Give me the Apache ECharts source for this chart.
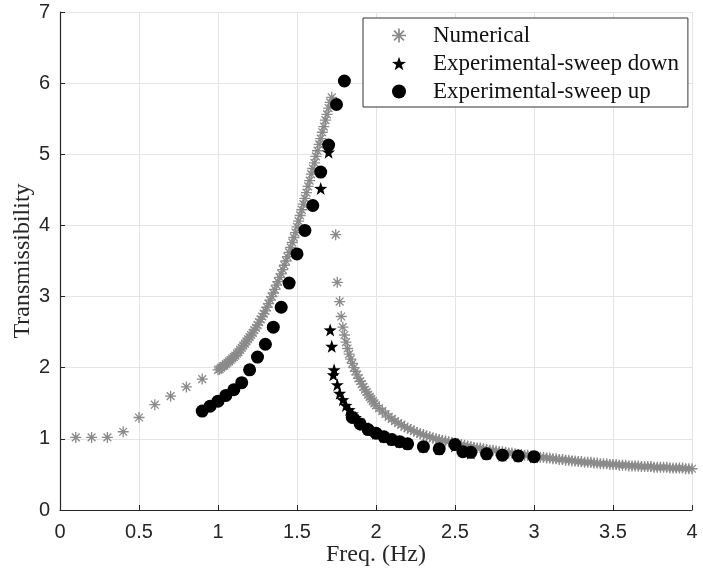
<!DOCTYPE html>
<html>
<head>
<meta charset="utf-8">
<script src="https://cdn.jsdelivr.net/npm/echarts@6/dist/echarts.min.js"></script>
<style>
html,body{margin:0;padding:0;background:#fff;}
#c{width:703px;height:575px;}
</style>
</head>
<body>
<div id="c"></div>
<script>
// ---- Data ----
const xTicks = [0, 0.5, 1, 1.5, 2, 2.5, 3, 3.5, 4];
const yTicks = [0, 1, 2, 3, 4, 5, 6, 7];

// Numerical: low-frequency points
const numLowFreq = [0.1, 0.2, 0.3, 0.4, 0.5, 0.6, 0.7, 0.8, 0.9];
const numLowVal  = [1.02, 1.02, 1.02, 1.10, 1.30, 1.48, 1.60, 1.73, 1.84];

// Numerical: upper (resonant) branch
const numUpFreq = [1.00,1.01,1.02,1.03,1.04,1.05,1.06,1.07,1.08,1.09,1.10,1.11,1.12,1.13,1.14,1.15,1.16,1.17,1.18,1.19,
  1.20,1.21,1.22,1.23,1.24,1.25,1.26,1.27,1.28,1.29,1.30,1.31,1.32,1.33,1.34,1.35,1.36,1.37,1.38,1.39,
  1.40,1.41,1.42,1.43,1.44,1.45,1.46,1.47,1.48,1.49,1.50,1.51,1.52,1.53,1.54,1.55,1.56,1.57,1.58,1.59,
  1.60,1.61,1.62,1.63,1.64,1.65,1.66,1.67,1.68,1.69,1.70,1.71,1.72];
const numUpVal = [1.97,1.98,2.00,2.02,2.03,2.05,2.07,2.09,2.11,2.13,2.15,2.17,2.20,2.22,2.25,2.28,2.31,2.34,2.37,2.40,
  2.43,2.46,2.49,2.53,2.56,2.60,2.64,2.68,2.72,2.76,2.80,2.85,2.90,2.95,3.00,3.05,3.10,3.16,3.21,3.27,
  3.32,3.38,3.44,3.50,3.56,3.62,3.69,3.76,3.83,3.90,3.98,4.06,4.14,4.22,4.30,4.38,4.46,4.55,4.63,4.72,
  4.80,4.88,4.97,5.05,5.14,5.22,5.31,5.39,5.48,5.56,5.65,5.73,5.80];

// Numerical: lower branch after the jump
const numJumpFreq = [1.745,1.755,1.77,1.78,1.79,1.80,1.81,1.82,1.83,1.84,1.85,1.86,1.87,1.88,1.89,1.90,1.91,1.92,1.93,1.94,1.95,1.96,1.97,1.98,1.99,2.00];
const numJumpVal  = [3.87,3.20,2.93,2.72,2.57,2.46,2.36,2.27,2.19,2.12,2.06,2.00,1.95,1.90,1.85,1.81,1.77,1.73,1.69,1.66,1.62,1.59,1.56,1.53,1.50,1.47];

// Numerical: tail
const numTailFreq = [2.02,2.04,2.06,2.08,2.10,2.12,2.14,2.16,2.18,2.20,2.22,2.24,2.26,2.28,2.30,2.32,2.34,2.36,2.38,2.40,
  2.42,2.44,2.46,2.48,2.50,2.52,2.54,2.56,2.58,2.60,2.62,2.64,2.66,2.68,2.70,2.72,2.74,2.76,2.78,2.80,
  2.82,2.84,2.86,2.88,2.90,2.92,2.94,2.96,2.98,3.00,3.02,3.04,3.06,3.08,3.10,3.12,3.14,3.16,3.18,3.20,
  3.22,3.24,3.26,3.28,3.30,3.32,3.34,3.36,3.38,3.40,3.42,3.44,3.46,3.48,3.50,3.52,3.54,3.56,3.58,3.60,
  3.62,3.64,3.66,3.68,3.70,3.72,3.74,3.76,3.78,3.80,3.82,3.84,3.86,3.88,3.90,3.92,3.94,3.96,3.98,4.00];
const numTailVal = [1.43,1.39,1.35,1.31,1.28,1.25,1.22,1.20,1.17,1.15,1.13,1.11,1.09,1.07,1.06,1.04,1.03,1.01,1.00,0.99,
  0.98,0.97,0.96,0.95,0.94,0.93,0.92,0.91,0.90,0.89,0.88,0.87,0.87,0.86,0.85,0.84,0.84,0.83,0.82,0.82,
  0.81,0.80,0.80,0.79,0.78,0.78,0.77,0.77,0.76,0.75,0.75,0.74,0.74,0.73,0.73,0.72,0.72,0.71,0.71,0.70,
  0.70,0.69,0.69,0.68,0.68,0.67,0.67,0.67,0.66,0.66,0.65,0.65,0.65,0.64,0.64,0.64,0.63,0.63,0.63,0.62,
  0.62,0.62,0.62,0.61,0.61,0.61,0.61,0.60,0.60,0.60,0.60,0.60,0.59,0.59,0.59,0.59,0.59,0.58,0.58,0.58];

// Experimental - sweep down (stars)
const downFreq = [1.65,1.70,1.71,1.72,1.735,1.73,1.755,1.77,1.79,1.81,1.83,1.85,1.87,1.89,1.92,1.95,2.00,2.05,2.10,2.15,2.20,2.30,2.40,2.50,2.60,2.70,2.80,2.90,3.00];
const downVal  = [4.52,5.03,2.53,2.30,1.97,1.90,1.76,1.64,1.55,1.47,1.41,1.35,1.30,1.26,1.20,1.15,1.08,1.03,0.99,0.96,0.93,0.89,0.86,0.90,0.80,0.79,0.77,0.76,0.75];

// Experimental - sweep up (circles)
const upFreq = [0.90,0.95,1.00,1.05,1.10,1.15,1.20,1.25,1.30,1.35,1.40,1.45,1.50,1.55,1.60,1.65,1.70,1.75,1.80,
  1.85,1.90,1.95,2.00,2.05,2.10,2.15,2.20,2.30,2.40,2.50,2.55,2.60,2.70,2.80,2.90,3.00];
const upVal  = [1.39,1.46,1.53,1.61,1.69,1.79,1.97,2.15,2.33,2.57,2.85,3.19,3.60,3.93,4.28,4.75,5.13,5.70,6.03,
  1.30,1.21,1.13,1.08,1.03,0.99,0.96,0.93,0.89,0.86,0.92,0.82,0.81,0.79,0.77,0.76,0.75];

const seriesNames = ['Numerical', 'Experimental-sweep down', 'Experimental-sweep up'];

// ---- Build ----
function zip(a, b) { return a.map((x, i) => [x, b[i]]); }
const numData = [].concat(zip(numLowFreq, numLowVal), zip(numUpFreq, numUpVal),
  zip(numJumpFreq, numJumpVal), zip(numTailFreq, numTailVal));

const ASTERISK = 'path://M0 4.4L10 4.4L10 5.6L0 5.6Z M4.4 0L5.6 0L5.6 10L4.4 10Z M1.88 1.04L8.96 8.12L8.12 8.96L1.04 1.88Z M8.12 1.04L8.96 1.88L1.88 8.96L1.04 8.12Z';
const STAR = 'path://M5 0L6.176 3.382L9.755 3.455L6.902 5.618L7.939 9.045L5 7L2.061 9.045L3.098 5.618L0.245 3.455L3.824 3.382Z';

const axisColor = '#262626';
const gridColor = '#e4e4e4';

const chart = echarts.init(document.getElementById('c'), null, { renderer: 'canvas' });
chart.setOption({
  animation: false,
  backgroundColor: '#ffffff',
  grid: { left: 60, right: 11, top: 12, bottom: 65, containLabel: false, outerBoundsMode: 'none' },
  legend: {
    orient: 'vertical',
    left: 363, top: 18,
    padding: [5, 9, 3, 29],
    itemWidth: 14, itemHeight: 14,
    itemGap: 3,
    backgroundColor: '#ffffff',
    borderColor: '#333333', borderWidth: 1,
    textStyle: { fontFamily: 'Liberation Serif', fontSize: 23, color: '#111', lineHeight: 25, padding: [0, 0, 0, 22] },
    data: seriesNames
  },
  xAxis: {
    type: 'value', min: xTicks[0], max: xTicks[xTicks.length - 1], interval: 0.5,
    name: 'Freq. (Hz)', nameLocation: 'middle', nameGap: 33, nameMoveOverlap: false,
    nameTextStyle: { fontFamily: 'Liberation Serif', fontSize: 24, color: axisColor },
    axisLine: { show: true, lineStyle: { color: axisColor, width: 1.2 } },
    axisTick: { show: true, inside: true, length: 5, lineStyle: { color: axisColor } },
    axisLabel: { fontFamily: 'Liberation Sans', fontSize: 20, color: axisColor, margin: 12 },
    splitLine: { show: true, lineStyle: { color: gridColor, width: 1 } }
  },
  yAxis: {
    type: 'value', min: yTicks[0], max: yTicks[yTicks.length - 1], interval: 1,
    name: 'Transmissibility', nameLocation: 'middle', nameGap: 25, nameMoveOverlap: false,
    nameTextStyle: { fontFamily: 'Liberation Serif', fontSize: 24, color: axisColor },
    axisLine: { show: true, lineStyle: { color: axisColor, width: 1.2 } },
    axisTick: { show: true, inside: true, length: 5, lineStyle: { color: axisColor } },
    axisLabel: { fontFamily: 'Liberation Sans', fontSize: 20, color: axisColor, margin: 10 },
    splitLine: { show: true, lineStyle: { color: gridColor, width: 1 } }
  },
  series: [
    { name: seriesNames[0], type: 'scatter', data: numData, symbol: ASTERISK, symbolSize: 11,
      itemStyle: { color: '#8a8a8a', opacity: 1 }, z: 2, silent: true },
    { name: seriesNames[1], type: 'scatter', data: zip(downFreq, downVal), symbol: STAR, symbolSize: 13,
      itemStyle: { color: '#000000', opacity: 1 }, z: 3, silent: true },
    { name: seriesNames[2], type: 'scatter', data: zip(upFreq, upVal), symbol: 'circle', symbolSize: 13,
      itemStyle: { color: '#000000', opacity: 1 }, z: 4, silent: true }
  ]
});
</script>
</body>
</html>
